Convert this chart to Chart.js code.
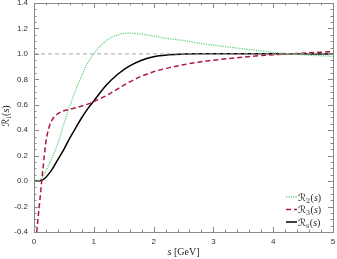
<!DOCTYPE html>
<html>
<head>
<meta charset="utf-8">
<script src="https://cdn.jsdelivr.net/npm/chart.js@4/dist/chart.umd.min.js"></script>
<style>
html,body{margin:0;padding:0;background:#fff;}
#wrap{width:337px;height:259px;}
</style>
</head>
<body>
<div id="wrap"><canvas id="c" width="337" height="259"></canvas></div>
<script>
// ---- data ----
const sGrid = [0,0.05,0.1,0.15,0.2,0.3,0.4,0.5,0.6,0.7,0.8,0.9,1.0,1.2,1.4,1.6,1.8,2.0,2.25,2.5,2.75,3.0,3.5,4.0,4.5,5.0];
const R2 = [0,0.0,0.01,0.04,0.08,0.18,0.30,0.45,0.59,0.72,0.83,0.93,1.0,1.10,1.15,1.163,1.155,1.14,1.12,1.105,1.085,1.068,1.04,1.012,0.993,0.98];
const Rs = [0,0,0.003,0.012,0.03,0.09,0.17,0.25,0.34,0.42,0.50,0.57,0.63,0.75,0.84,0.905,0.95,0.978,0.993,1.0,1.002,1.002,1.002,1.001,1.0,1.0];
const s3 = [0.045,0.07,0.1,0.15,0.2,0.25,0.3,0.4,0.5,0.6,0.7,0.8,0.9,1.0,1.2,1.4,1.6,1.8,2.0,2.25,2.5,2.75,3.0,3.5,4.0,4.5,5.0];
const R3 = [-0.4,-0.28,-0.14,0.10,0.31,0.42,0.48,0.53,0.553,0.565,0.577,0.59,0.605,0.625,0.67,0.725,0.78,0.825,0.86,0.89,0.915,0.935,0.95,0.975,0.993,1.006,1.018];
const refLevel = 1.0;
const xRange = [0, 5];
const yRange = [-0.4, 1.4];
const subs = ['2', '3', 's'];
const labels = subs.map(k => '\u211B' + k + '(s)');
const yTitleSub = 'i';
const xTitleVar = 's';
const xTitleUnit = ' [GeV]';

const pts = (xs, ys) => xs.map((x, i) => ({x: x, y: ys[i]}));

function drawR(ctx, x, y, sub) {
  ctx.font = '10px "DejaVu Sans"';
  ctx.fillText('\u211B', x, y);
  x += ctx.measureText('\u211B').width;
  ctx.font = '6.5px "DejaVu Serif"';
  ctx.fillText(sub, x, y + 2);
  x += ctx.measureText(sub).width + 0.5;
  ctx.font = '10px "Liberation Serif"';
  ctx.fillText('(', x, y);
  x += ctx.measureText('(').width;
  ctx.font = 'italic 10px "Liberation Serif"';
  ctx.fillText('s', x, y);
  x += ctx.measureText('s').width;
  ctx.font = '10px "Liberation Serif"';
  ctx.fillText(')', x, y);
  x += ctx.measureText(')').width;
  return x;
}

const tickPlugin = {
  id: 'inTicks',
  afterDatasetsDraw(chart) {
    const {ctx, chartArea: a, scales: {x, y}} = chart;
    ctx.save();
    ctx.strokeStyle = '#8a8a8a';
    ctx.lineWidth = 1;
    ctx.beginPath();
    for (let i = 0; i <= 25; i++) {
      const v = i * 0.2;
      const px = Math.round(x.getPixelForValue(v)) + 0.5;
      const L = (i % 5 === 0) ? 5 : 2.5;
      ctx.moveTo(px, a.bottom); ctx.lineTo(px, a.bottom - L);
      ctx.moveTo(px, a.top); ctx.lineTo(px, a.top + L);
    }
    for (let i = -8; i <= 28; i++) {
      const v = i * 0.05;
      const py = Math.round(y.getPixelForValue(v)) + 0.5;
      const L = (i % 4 === 0) ? 5 : 2.5;
      ctx.moveTo(a.left, py); ctx.lineTo(a.left + L, py);
      ctx.moveTo(a.right, py); ctx.lineTo(a.right - L, py);
    }
    ctx.stroke();
    ctx.strokeRect(Math.round(a.left) + 0.5, Math.round(a.top) + 0.5, Math.round(a.right - a.left), Math.round(a.bottom - a.top));
    ctx.restore();
  },
  afterDraw(chart) {
    const {ctx, chartArea: a} = chart;
    const ds = chart.data.datasets.filter(d => d.inLegend);
    ctx.save();
    ctx.textBaseline = 'alphabetic';
    ctx.textAlign = 'left';
    const rows = [197, 209.5, 222];
    ds.forEach((d, i) => {
      const yy = rows[i];
      ctx.strokeStyle = d.borderColor;
      ctx.lineWidth = d.borderWidth;
      ctx.setLineDash(d.borderDash || []);
      ctx.beginPath();
      ctx.moveTo(286, yy); ctx.lineTo(297, yy);
      ctx.stroke();
      ctx.setLineDash([]);
      ctx.fillStyle = '#222';
      drawR(ctx, 298, yy + 3.5, d.sub);
    });
    // x-axis title with italic variable
    ctx.fillStyle = '#222';
    ctx.font = 'italic 10px "Liberation Serif"';
    const w1 = ctx.measureText(xTitleVar).width;
    ctx.font = '10px "Liberation Serif"';
    const w2 = ctx.measureText(xTitleUnit).width;
    let xx = (a.left + a.right) / 2 - (w1 + w2) / 2;
    ctx.font = 'italic 10px "Liberation Serif"';
    ctx.fillText(xTitleVar, xx, 255);
    ctx.font = '10px "Liberation Serif"';
    ctx.fillText(xTitleUnit, xx + w1, 255);
    // y-axis title
    ctx.translate(9, (a.top + a.bottom) / 2 + 9);
    ctx.rotate(-Math.PI / 2);
    drawR(ctx, 0, 0, yTitleSub);
    ctx.restore();
  }
};

new Chart(document.getElementById('c'), {
  type: 'line',
  data: {
    datasets: [
      {label: 'ref', data: [{x: xRange[0], y: refLevel}, {x: xRange[1], y: refLevel}], borderColor: '#a8a8a8', borderWidth: 1, borderDash: [4, 3], pointRadius: 0, inLegend: false},
      {label: labels[0], sub: subs[0], data: pts(sGrid, R2), borderColor: '#5ed27a', borderWidth: 1.3, borderDash: [1.2, 1.2], pointRadius: 0, cubicInterpolationMode: 'monotone', inLegend: true},
      {label: labels[1], sub: subs[1], data: pts(s3, R3), borderColor: '#b0183e', borderWidth: 1.5, borderDash: [5, 3], pointRadius: 0, cubicInterpolationMode: 'monotone', inLegend: true},
      {label: labels[2], sub: subs[2], data: pts(sGrid, Rs), borderColor: '#000000', borderWidth: 1.5, pointRadius: 0, cubicInterpolationMode: 'monotone', inLegend: true}
    ]
  },
  options: {
    responsive: false,
    animation: false,
    layout: {padding: {left: 0, right: 4, top: 3, bottom: 0}},
    plugins: {legend: {display: false}, tooltip: {enabled: false}},
    scales: {
      x: {
        type: 'linear', min: xRange[0], max: xRange[1],
        grid: {display: false, drawTicks: false},
        border: {display: false},
        ticks: {stepSize: 1, padding: 5, color: '#333', font: {family: 'Liberation Sans', size: 8}, maxRotation: 0},
        title: {display: false},
        afterFit(s) { s.height = 27; s.paddingLeft = 0; s.paddingRight = 0; }
      },
      y: {
        type: 'linear', min: yRange[0], max: yRange[1],
        grid: {display: false, drawTicks: false},
        border: {display: false},
        ticks: {stepSize: 0.2, padding: 6, color: '#333', font: {family: 'Liberation Sans', size: 8}, callback: v => (Math.abs(v) < 1e-9 ? 0 : v).toFixed(1)},
        title: {display: false},
        afterFit(s) { s.width = 34; s.paddingTop = 0; s.paddingBottom = 0; }
      }
    }
  },
  plugins: [tickPlugin]
});
</script>
</body>
</html>
